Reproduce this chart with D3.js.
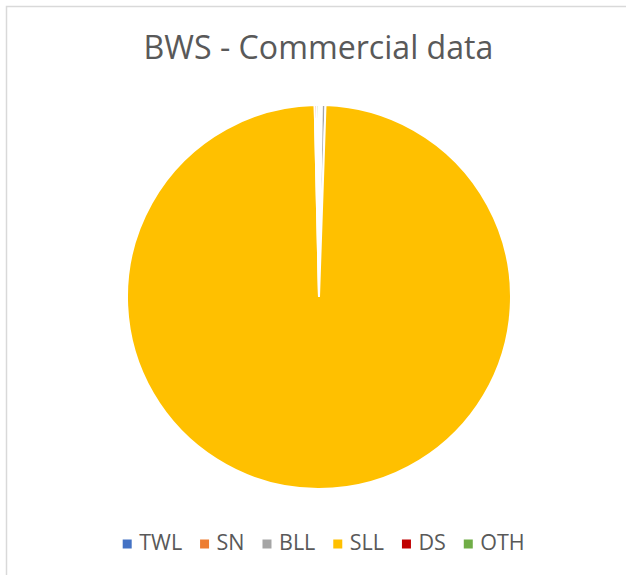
<!DOCTYPE html>
<html><head><meta charset="utf-8">
<script src="https://cdn.jsdelivr.net/npm/d3@7"></script>
<style>html,body{margin:0;padding:0;background:#fff;}</style>
</head><body>
<svg id="chart" width="626" height="575"></svg>
<script>
const title = "BWS - Commercial data";
const categories = ["TWL", "SN", "BLL", "SLL", "DS", "OTH"];
const values = [0.12, 0.12, 0.3, 99.1, 0.18, 0.18];
const colors = ["#4472C4", "#ED7D31", "#A5A5A5", "#FFC000", "#C00000", "#70AD47"];

const svg = d3.select("#chart");
svg.append("rect").attr("x", 6.5).attr("y", 6.5).attr("width", 700).attr("height", 700)
  .attr("fill", "#fff").attr("stroke", "#d9d9d9").attr("stroke-width", 1.5);

const t = svg.append("text").text(title).attr("x", 318.5).attr("y", 59)
  .attr("text-anchor", "middle").attr("fill", "#595959")
  .style("font-family", "'Open Sans'").style("font-size", "30px");
const tw = t.node().getComputedTextLength();
t.style("font-size", (30 * 350 / tw) + "px");

const data = categories.map((c, i) => ({cat: c, value: values[i], color: colors[i]}));
const pie = d3.pie().sort(null).value(d => d.value);
const arc = d3.arc().innerRadius(0).outerRadius(192);
svg.append("g").attr("transform", "translate(319,297)")
  .selectAll("path").data(pie(data)).join("path")
  .attr("d", arc).attr("fill", d => d.data.color)
  .attr("stroke", "#fff").attr("stroke-width", 2);

const lg = svg.append("g");
const items = lg.selectAll("g").data(data).join("g");
items.append("rect").attr("width", 9).attr("height", 9).attr("y", -10.5).attr("fill", d => d.color);
items.append("text").text(d => d.cat).attr("x", 16.5).attr("y", 0)
  .attr("fill", "#595959").style("font-family", "'Open Sans'").style("font-size", "21.5px");
const widths = [];
items.each(function () {
  const w = 16.5 + d3.select(this).select("text").node().getComputedTextLength();
  widths.push(w);
});
const sum = widths.reduce((a, b) => a + b, 0);
const gap = (402 - sum) / (widths.length - 1);
let cx = 122.7;
items.attr("transform", (d, i) => {
  const tr = `translate(${cx},550)`;
  cx += widths[i] + gap;
  return tr;
});
</script>
</body></html>
